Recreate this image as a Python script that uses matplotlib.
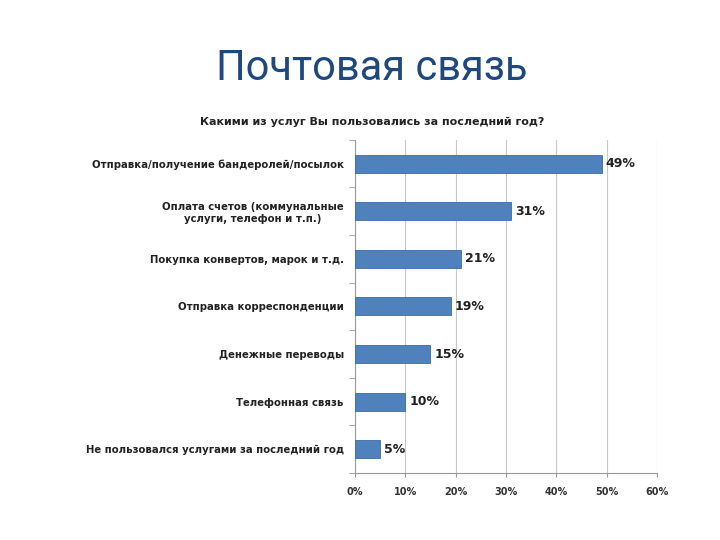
import matplotlib
matplotlib.use("Agg")
import matplotlib.pyplot as plt
from matplotlib.ticker import FuncFormatter

categories = [
    "Отправка/получение бандеролей/посылок",
    "Оплата счетов (коммунальные\nуслуги, телефон и т.п.)",
    "Покупка конвертов, марок и т.д.",
    "Отправка корреспонденции",
    "Денежные переводы",
    "Телефонная связь",
    "Не пользовался услугами за последний год",
]
values = [49, 31, 21, 19, 15, 10, 5]
xticks = [0, 10, 20, 30, 40, 50, 60]

fig = plt.figure(figsize=(7.2, 5.4), dpi=100)
fig.patch.set_facecolor("white")

fig.text(0.517, 0.873, "Почтовая связь", ha="center", va="center",
         fontsize=30, color="#1F497D", family="Roboto")
fig.text(0.517, 0.774, "Какими из услуг Вы пользовались за последний год?",
         ha="center", va="center", fontsize=8, fontweight="bold",
         color="#222222", family="DejaVu Sans")

ax = fig.add_axes([0.493, 0.124, 0.4195, 0.617])
y = list(range(len(categories)))
ax.barh(y, values, height=0.38, color="#4F81BD", edgecolor="#3A6EA5",
        linewidth=0.6, zorder=3)
for yi, v in zip(y, values):
    ax.text(v + 0.8, yi, f"{v}%", va="center", ha="left", fontsize=9,
            fontweight="bold", color="#222222", family="DejaVu Sans")

ax.set_xlim(0, 60)
ax.set_ylim(len(categories) - 0.5, -0.5)
ax.set_xticks(xticks)
ax.xaxis.set_major_formatter(FuncFormatter(lambda v, p: f"{int(v)}%"))
ax.set_yticks(y)
ax.set_yticklabels(categories, fontsize=7.3, fontweight="bold",
                   family="DejaVu Sans", color="#222222", ha="right",
                   multialignment="center")
for lbl in ax.get_xticklabels():
    lbl.set_fontsize(7)
    lbl.set_fontweight("bold")
    lbl.set_family("DejaVu Sans")
    lbl.set_color("#333333")
ax.set_yticks([i + 0.5 for i in range(-1, len(categories))], minor=True)
ax.tick_params(axis="y", which="major", length=0, pad=8)
ax.tick_params(axis="y", which="minor", length=4, color="#999999", direction="out")
ax.tick_params(axis="x", length=3, color="#999999", pad=7)
ax.grid(axis="x", color="#C8C8C8", linewidth=0.8, zorder=0)
for s in ["top", "right"]:
    ax.spines[s].set_visible(False)
ax.spines["left"].set_color("#999999")
ax.spines["bottom"].set_color("#999999")

fig.savefig("out.png", dpi=100, facecolor="white")
